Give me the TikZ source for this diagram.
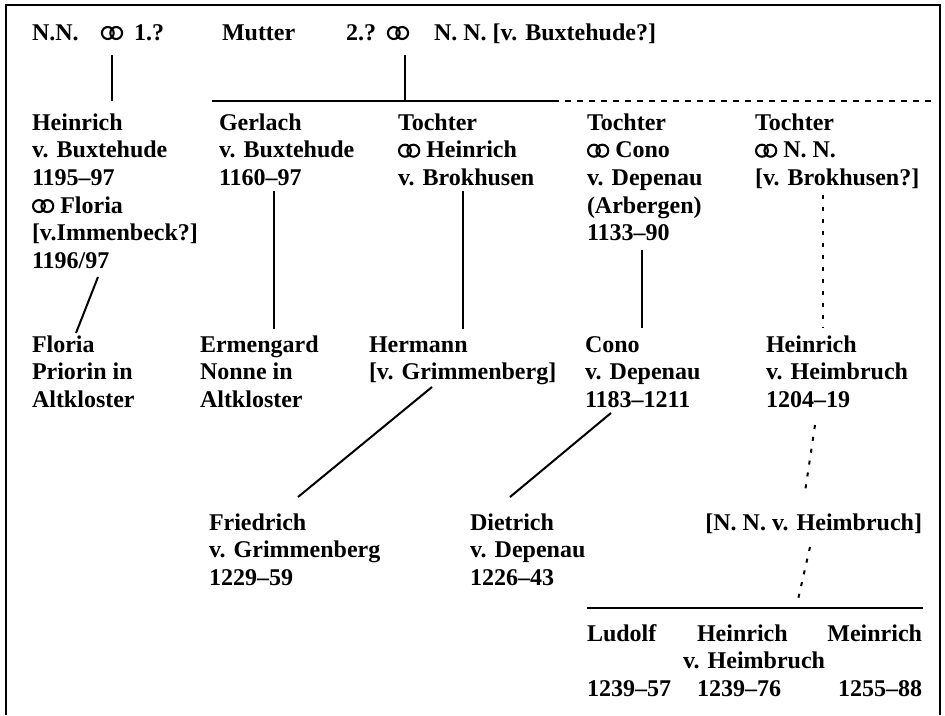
\documentclass[tikz,border=0pt]{standalone}
\usepackage{fontspec}
\setmainfont{Liberation Serif}
\usetikzlibrary{calc}
\newcommand\mrg{\tikz[baseline=0pt,x=1pt,y=1pt]{\draw[line width=2.1pt] (7.0,7.0) ellipse[x radius=5.9,y radius=6.0] (15.4,7.0) ellipse[x radius=5.9,y radius=6.0];}}
\newcommand\stk[1]{\vtop{\baselineskip=27.7pt\lineskip=0pt\lineskiplimit=-100pt\halign{##\hfil\cr#1\crcr}}}
\begin{document}
\begin{tikzpicture}[x=1pt,y=-1pt,
  every node/.style={inner sep=0pt,outer sep=0pt,font=\fontsize{24}{27.7}\selectfont\bfseries},
  txt/.style={anchor=base west},
  txtr/.style={anchor=base east},
  conn/.style={line width=2pt},
  dsh/.style={line width=2pt,dash pattern=on 6pt off 6pt},
  dotl/.style={line width=2pt,dash pattern=on 4pt off 8pt},
  frame/.style={line width=2.5pt}]
\useasboundingbox (0,0) rectangle (945,715);
\draw[frame] (6,715) -- (6,5) -- (940,5) -- (940,715);
% row 0
\node[txt] (nn1) at (32,40) {N.N.};
\node[anchor=base] (s1) at (112,40) {\mrg};
\node[txt] (one) at (134,40) {1.?};
\node[txt] (mut) at (222,40) {Mutter};
\node[txt] (two) at (346,40) {2.?};
\node[anchor=base] (s2) at (398,40) {\mrg};
\node[txt] (nn2) at (434,40) {N. N. [v. Buxtehude?]};
% row 1
\node[txt] (hb) at (32,130) {\stk{Heinrich\cr v. Buxtehude\cr 1195–97\cr \mrg\ Floria\cr [v.Immenbeck?]\cr 1196/97}};
\node[txt] (ge) at (219,130) {\stk{Gerlach\cr v. Buxtehude\cr 1160–97}};
\node[txt] (ta) at (398,130) {\stk{Tochter\cr \mrg\ Heinrich\cr v. Brokhusen}};
\node[txt] (tb) at (587,130) {\stk{Tochter\cr \mrg\ Cono\cr v. Depenau\cr (Arbergen)\cr 1133–90}};
\node[txt] (tc) at (755,130) {\stk{Tochter\cr \mrg\ N. N.\cr [v. Brokhusen?]}};
% row 2
\node[txt] (fl) at (32,352) {\stk{Floria\cr Priorin in\cr Altkloster}};
\node[txt] (er) at (200,352) {\stk{Ermengard\cr Nonne in\cr Altkloster}};
\node[txt] (he) at (369,352) {\stk{Hermann\cr [v. Grimmenberg]}};
\node[txt] (co) at (585,352) {\stk{Cono\cr v. Depenau\cr 1183–1211}};
\node[txt] (hh) at (766,352) {\stk{Heinrich\cr v. Heimbruch\cr 1204–19}};
% row 3
\node[txt] (fr) at (209,530) {\stk{Friedrich\cr v. Grimmenberg\cr 1229–59}};
\node[txt] (di) at (470,530) {\stk{Dietrich\cr v. Depenau\cr 1226–43}};
\node[txtr] (nnh) at (922,530) {[N. N. v. Heimbruch]};
% row 4
\node[txt] (lu) at (587,641) {Ludolf};
\node[txt] (hr) at (697,641) {Heinrich};
\node[txtr] (me) at (922,641) {Meinrich};
\node[txt] (vh) at (683,668) {v. Heimbruch};
\node[txt] (ya) at (587,696) {1239–57};
\node[txt] (yb) at (697,696) {1239–76};
\node[txtr] (yc) at (922,696) {1255–88};
% connector ends
\coordinate (bar1) at (112,101);
\coordinate (bar2) at (405,101);
\coordinate (barL) at (212,101);
\coordinate (barM) at (553,101);
\coordinate (barR) at (936,101);
\coordinate (hbB) at (98,277);   \coordinate (flT) at (76,333);
\coordinate (geB) at (274,191);  \coordinate (erT) at (274,329);
\coordinate (taB) at (463,191);  \coordinate (heT) at (463,329);
\coordinate (tbB) at (642,250);  \coordinate (coT) at (642,328);
\coordinate (tcB) at (823,195);  \coordinate (hhT) at (823,328);
\coordinate (heB) at (432,387);  \coordinate (frT) at (298,497);
\coordinate (coB) at (611,413);  \coordinate (diT) at (510,497);
\coordinate (hhB) at (815,425);  \coordinate (nnhT) at (805,492);
\coordinate (nnhB) at (810,547); \coordinate (sibT) at (797,604);
\coordinate (sibL) at (587,608); \coordinate (sibR) at (923,608);
% connectors
\draw[conn] ([yshift=-15pt]s1.south) -- (bar1);
\draw[conn] ([xshift=7pt,yshift=-15pt]s2.south) -- (bar2);
\draw[conn] (barL) -- (barM);
\draw[dsh] (barM) -- (barR);
\draw[conn] (hbB) -- (flT);
\draw[conn] (geB) -- (erT);
\draw[conn] (taB) -- (heT);
\draw[conn] (tbB) -- (coT);
\draw[dotl] (tcB) -- (hhT);
\draw[conn] (heB) -- (frT);
\draw[conn] (coB) -- (diT);
\draw[dotl] (hhB) -- (nnhT);
\draw[dotl] (nnhB) -- (sibT);
\draw[conn] (sibL) -- (sibR);
\end{tikzpicture}
\end{document}
